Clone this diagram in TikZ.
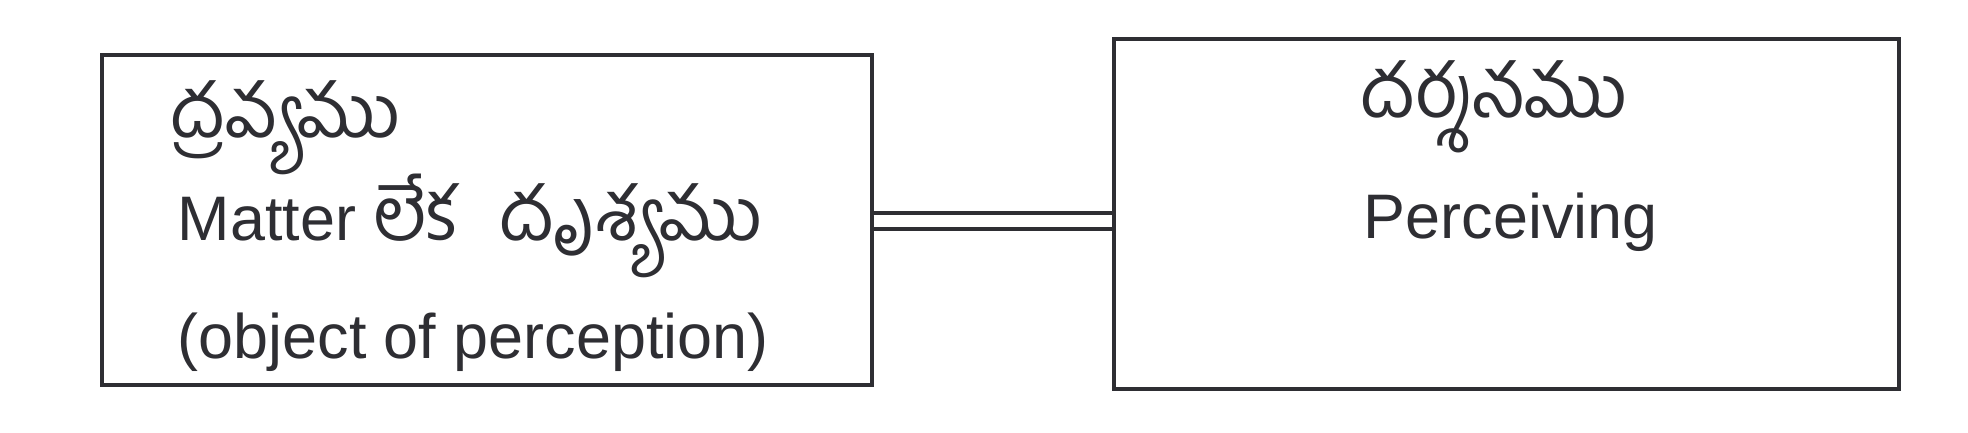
\documentclass[tikz,border=0pt]{standalone}
\usepackage{fontspec}
\setmainfont{Liberation Sans}
\newfontfamily\telugu[Script=Telugu,Scale=1.18]{Hind Guntur}
\usepackage{tikz}
\usetikzlibrary{%
  calc,%
  positioning%
}
\definecolor{ink}{HTML}{2E2E33}

\begin{document}
\begin{tikzpicture}[x=1cm,y=1cm,
  box/.style={draw=ink,line width=1pt,anchor=north west,inner sep=0pt},
  txt/.style={anchor=base west,inner sep=0pt,text=ink,font=\fontsize{17.9pt}{20pt}\selectfont}]
\useasboundingbox (0,0) rectangle (19.68,-4.33);

\node[box,minimum width=7.70cm,minimum height=3.30cm] (matter) at (1.00,-0.53) {};
\node[box,minimum width=7.85cm,minimum height=3.50cm] (perceive) at (11.12,-0.37) {};
%
\node[txt] (dravya) at (1.70,-1.37) {\telugu ద్రవ్యము};
\node[txt] (drsya) at (1.77,-2.40) {Matter {\telugu లేక\hspace{0.3em} దృశ్యము}};
\node[txt] (object) at (1.77,-3.58) {(object of perception)};
\node[txt] (darsana) at (13.60,-1.17) {\telugu దర్శనము};
\node[txt] (perceiving) at (13.63,-2.38) {Perceiving};
%
\coordinate (joint) at (0,-2.21);
\draw[ink,line width=1pt,double,double distance=0.12cm] (matter.east |- joint) -- (perceive.west |- joint);
\end{tikzpicture}
\end{document}
